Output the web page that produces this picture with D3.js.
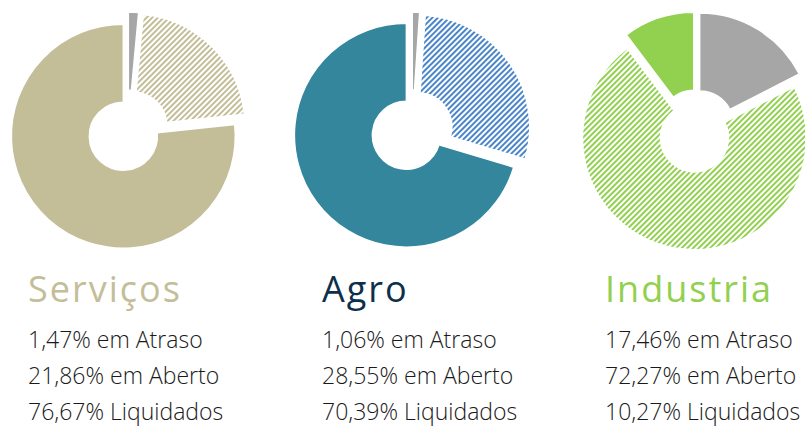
<!DOCTYPE html>
<html>
<head>
<meta charset="utf-8">
<script src="https://cdn.jsdelivr.net/npm/d3@7"></script>
<style>
  body { margin: 0; background: #fff; }
  text { font-family: "Open Sans", "Lato", sans-serif; }
</style>
</head>
<body>
<svg id="chart"></svg>
<script>
const width = 805;
const height = 427;

// sectors and their split (%)
const categories = ['Serviços', 'Agro', 'Industria'];
const atraso = [1.47, 1.06, 17.46];
const aberto = [21.86, 28.55, 72.27];
const liquidados = [76.67, 70.39, 10.27];
const statusLabels = ['em Atraso', 'em Aberto', 'Liquidados'];

const solidColor = ['#c4be98', '#33869c', '#92d050'];
const hatchColor = ['#c4be98', '#4a86c8', '#92d050'];
const titleColor = ['#c4be98', '#0e2f4c', '#92d050'];
const gray = '#a6a6a6';

const outerR = 112;
const innerR = 34;
const explode = 7;

const svg = d3.select('#chart')
    .attr('width', width)
    .attr('height', height);

svg.append('rect').attr('width', width).attr('height', height).attr('fill', '#fff');

const cx = d3.scalePoint().domain(categories).range([128, 696]);
const cy = 131;
const labelX = d3.scaleOrdinal(categories, [28, 322, 605]);

// hatch patterns, one per sector
const defs = svg.append('defs');
categories.forEach((c, i) => {
    const p = defs.append('pattern')
        .attr('id', 'hatch' + i)
        .attr('patternUnits', 'userSpaceOnUse')
        .attr('width', 4)
        .attr('height', 4)
        .attr('patternTransform', 'rotate(45)');
    p.append('rect')
        .attr('width', 2)
        .attr('height', 4)
        .attr('fill', hatchColor[i]);
});

const pie = d3.pie().sort(null).value(d => d.value);
const arc = d3.arc().innerRadius(innerR).outerRadius(outerR);

categories.forEach((c, i) => {
    const slices = [
        { key: 'atraso', value: atraso[i], fill: gray },
        { key: 'aberto', value: aberto[i], fill: `url(#hatch${i})` },
        { key: 'liquidados', value: liquidados[i], fill: solidColor[i] }
    ];

    const g = svg.append('g')
        .attr('transform', `translate(${cx(c)},${cy})`);

    g.selectAll('path')
        .data(pie(slices))
        .join('path')
        .attr('transform', d => {
            const mid = (d.startAngle + d.endAngle) / 2;
            return `translate(${explode * Math.sin(mid)},${-explode * Math.cos(mid)})`;
        })
        .attr('d', arc)
        .attr('fill', d => d.data.fill)
        .attr('stroke', '#fff')
        .attr('stroke-width', 1.5);

    // labels under each donut
    const x = labelX(c);
    svg.append('text')
        .attr('x', x)
        .attr('y', 302)
        .attr('font-size', 36)
        .attr('font-weight', 500)
        .attr('letter-spacing', 2)
        .attr('fill', titleColor[i])
        .text(c);

    const vals = [atraso[i], aberto[i], liquidados[i]];
    vals.forEach((v, j) => {
        svg.append('text')
            .attr('x', x)
            .attr('y', 348 + j * 36)
            .attr('font-size', 23)
            .attr('font-weight', 300)
            .attr('fill', '#1a1a1a')
            .text(`${d3.format('.2f')(v).replace('.', ',')}% ${statusLabels[j]}`);
    });
});
</script>
</body>
</html>
